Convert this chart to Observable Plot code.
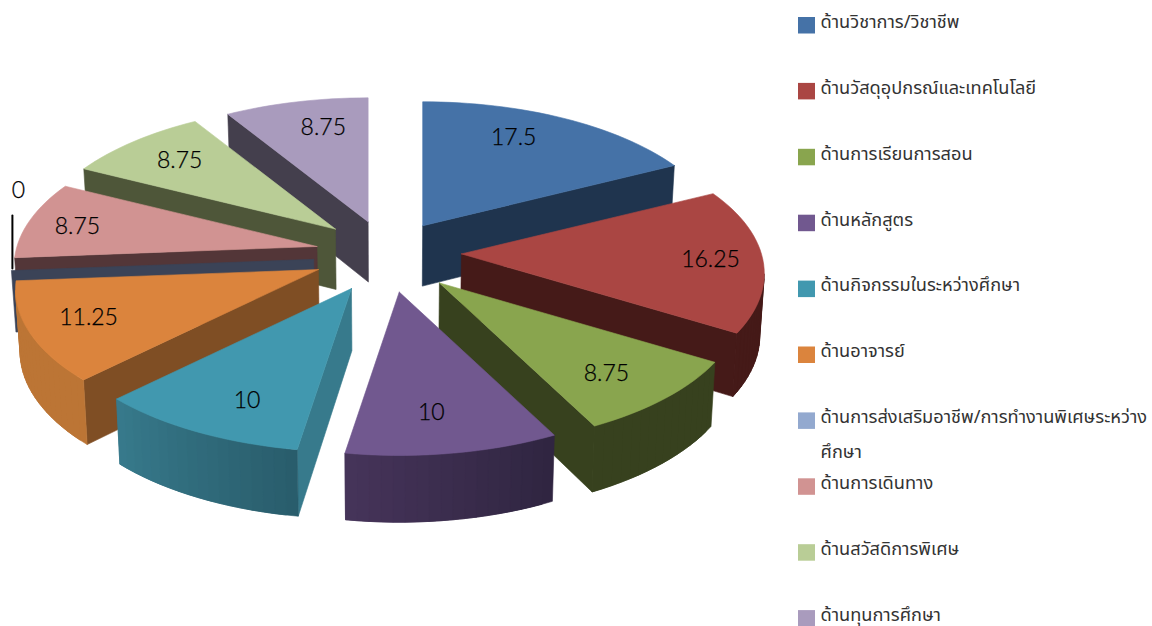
<!DOCTYPE html>
<html><head><meta charset="utf-8">
<style>html,body{margin:0;padding:0;background:#fff}svg{display:block}</style>
<script src="https://cdn.jsdelivr.net/npm/d3@7"></script>
<script src="https://cdn.jsdelivr.net/npm/@observablehq/plot@0.6"></script>
</head><body><div id="chart"></div>
<script>
const categories = ["ด้านวิชาการ/วิชาชีพ","ด้านวัสดุอุปกรณ์และเทคโนโลยี","ด้านการเรียนการสอน","ด้านหลักสูตร","ด้านกิจกรรมในระหว่างศึกษา","ด้านอาจารย์","ด้านการส่งเสริมอาชีพ/การทำงานพิเศษระหว่าง\nศึกษา","ด้านการเดินทาง","ด้านสวัสดิการพิเศษ","ด้านทุนการศึกษา"];
const values = [17.5,16.25,8.75,10,10,11.25,0,8.75,8.75,8.75];
const topColors = ["#4572a7","#aa4643","#89a54e","#71588f","#4198af","#db843d","#93a9cf","#d19392","#b9cd96","#a99bbd"];
const wallColors = ["#1f344e","#451a18","#37411e","#46345a","#377a8c","#7f4e24","#3b4357","#533638","#4e5639","#443f4d"];
const arcStart = ["#1f344e","#451a18","#37411e","#2f2540","#295c6b","#bc7535","#3b4357","#533638","#4e5639","#443f4d"];
const arcEnd = ["#1f344e","#451a18","#37411e","#46345a","#377a8c","#bc7535","#3b4357","#533638","#4e5639","#443f4d"];
const paintOrder = [0,9,8,1,7,6,2,5,4,3];

// layout tuning of the exploded slices (pixels)
const nudgeX = [-5,-2,0,-1,-3,-2,0,2,2,0];
const nudgeY = [0,-4,0,0,0,-2,0,-3,-3,0];
const labelNudgeX = [-6,2,1,0,0,0,0,-6,-5,0];
const labelNudgeY = [-4,1,1,-5,0,-1,0,1,0,-1];

const W = 1152, H = 626, FONT = '"Lato","Open Sans",sans-serif', THAI = '"Noto Sans","Noto Sans Thai","DejaVu Sans",sans-serif';
const rad = d => d * Math.PI / 180;
const total = d3.sum(values);
const cum = d3.cumsum(values);
const slices = values.map((v,i) => ({i, a0: (cum[i]-v)/total*360, a1: cum[i]/total*360}));

const rim = a => { const c = Math.cos(rad(a)), p = 1 + .137*c; return [300*Math.sin(rad(a))/p, -141*c/p]; };
const apexOf = (m,i) => [388 + nudgeX[i] + 75*Math.sin(rad(m)), 256 + nudgeY[i] - 36*Math.cos(rad(m))];
const drop = ([x,y]) => [x + (390-x)*.012, y + 54 + .028*y];

const polys = [];
let pid = 0;
const addPoly = (pts, color) => { const id = pid++; pts.forEach(p => polys.push({id, x:p[0], y:p[1], color})); };
const labels = [];
let zeroRim;
for (const idx of paintOrder) {
  const s = slices[idx], m = (s.a0+s.a1)/2, apex = apexOf(m,idx);
  const n = Math.max(1, Math.ceil((s.a1-s.a0)/2));
  const arc = d3.range(n+1).map(k => { const a = s.a0+(s.a1-s.a0)*k/n, r = rim(a); return [apex[0]+r[0], apex[1]+r[1]]; });
  const wall = (p,q,color) => { if (q[0] < p[0]) addPoly([p,q,drop(q),drop(p),p], color); };
  wall(apex, arc[0], wallColors[idx]);
  wall(arc[n], apex, wallColors[idx]);
  const mix = d3.interpolateRgb(arcStart[idx], arcEnd[idx]);
  for (let k=0;k<n;k++) {
    if (!(arc[k+1][0] < arc[k][0])) continue;
    // each band runs on under the next one so no seam shows between them
    const pts = [arc[k],arc[k+1]];
    if (k+2<=n && arc[k+2][0] < arc[k+1][0]) pts.push(arc[k+2]);
    addPoly([...pts,...pts.slice().reverse().map(drop),pts[0]], mix((k+.5)/n));
  }
  if (values[idx] > 0) addPoly([apex,...arc,apex], topColors[idx]);
  const r = rim(m), fx = .55+.27*Math.abs(Math.sin(rad(m)));
  if (values[idx] > 0) labels.push({x: apex[0]+r[0]*fx+labelNudgeX[idx], y: apex[1]+r[1]*.78+labelNudgeY[idx], t: String(values[idx])});
  else zeroRim = arc[0];
}

const legendY = i => 25 + 65.9*i;
const legendRows = categories.map((c,i)=>({c,i,y:legendY(i)}));
const legendText = legendRows.flatMap(d => d.c.split("\n").map((t,k)=>({t, y:d.y-3.5+k*35})));

const plot = Plot.plot({
  width:W, height:H, margin:0,
  x:{domain:[0,W],range:[0,W],axis:null},
  y:{domain:[0,H],range:[0,H],axis:null},
  marks:[
    Plot.line(polys,{x:"x",y:"y",z:"id",fill:"color",stroke:"color",strokeWidth:.6,strokeLinejoin:"round"}),
    Plot.line([{x:zeroRim[0]+1,y:zeroRim[1]-2},{x:zeroRim[0]+1,y:zeroRim[1]-55}],{x:"x",y:"y",stroke:"#000",strokeWidth:2}),
    Plot.text(labels,{x:"x",y:"y",text:"t",fontFamily:FONT,fontSize:23,fontWeight:300,fill:"#000",stroke:"#000",strokeWidth:.25}),
    Plot.text([{x:zeroRim[0]+7,y:zeroRim[1]-80,t:"0"}],{x:"x",y:"y",text:"t",fontFamily:FONT,fontSize:23,fontWeight:300,fill:"#000",stroke:"#000",strokeWidth:.25}),
    Plot.rect(legendRows,{x1:()=>798,x2:()=>815,y1:d=>d.y-8,y2:d=>d.y+8.5,fill:d=>topColors[d.i]}),
    Plot.text(legendText,{x:()=>820,y:"y",text:"t",textAnchor:"start",fontFamily:THAI,fontSize:18.2,fill:"#333"})
  ]
});
document.getElementById("chart").append(plot);
</script></body></html>
